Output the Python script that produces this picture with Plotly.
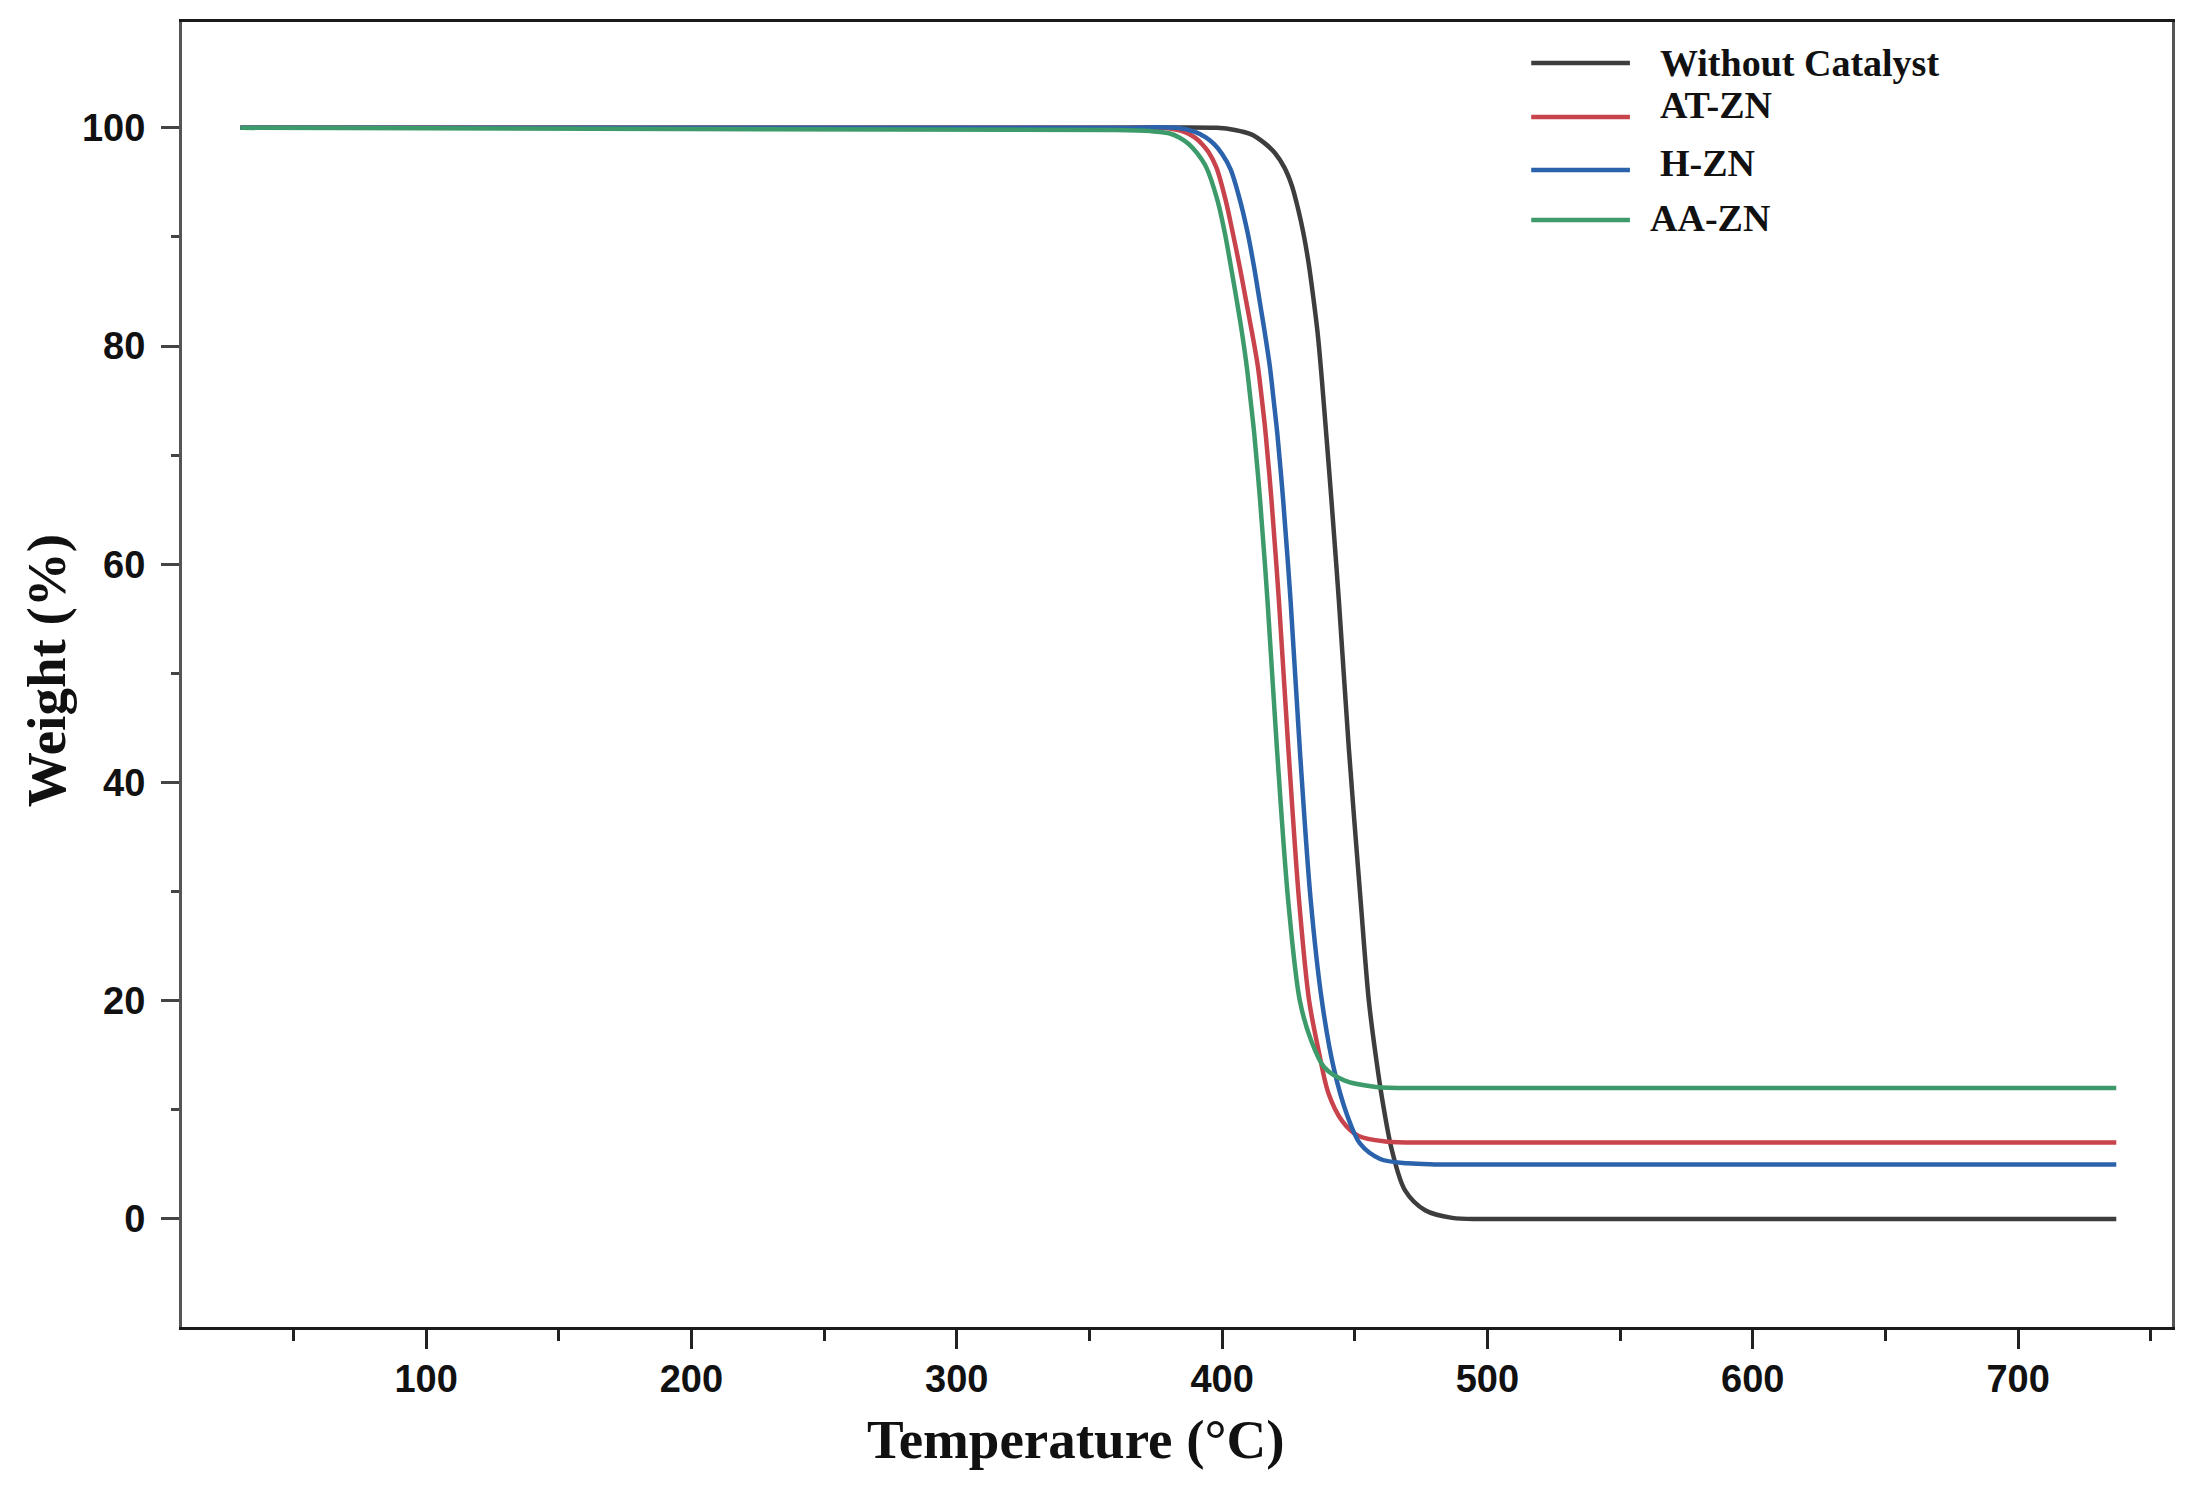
import plotly.graph_objects as go

# ---- data (Temperature °C, Weight %) ----
series_names = ["Without Catalyst", "AT-ZN", "H-ZN", "AA-ZN"]
series_colors = ["#3d3d3d", "#c8434b", "#2a62ab", "#3d9a6b"]

temp_without = [30, 357, 398, 404.8, 411, 416, 419.9, 423.4, 426.3, 428.6, 430.6, 432.6, 434.4,
                436, 437.4, 438.7, 441.2, 444, 447.8, 452.2, 455.3, 458, 460.4, 464, 469, 476.5,
                486.7, 500, 737]
weight_without = [100, 100, 100, 99.8, 99.4, 98.6, 97.7, 96.4, 94.7, 92.6, 90.4, 87.6, 84.4,
                  81.2, 77.5, 73.6, 65.9, 56.7, 43, 29.2, 20, 14.8, 10.9, 6.3, 2.6, 0.8,
                  0.1, 0, 0]

temp_at = [30, 357, 378, 386, 389.8, 392.5, 394.8, 397.8, 401.3, 404, 406.6, 409, 411.3, 413.5,
           415, 416.4, 418.6, 421.4, 425, 429, 432.8, 436.4, 440.1, 445.2, 451.5, 461.5, 480, 737]
weight_at = [100, 100, 100, 99.6, 99.1, 98.5, 97.8, 96.4, 93.4, 90.4, 87.3, 84.2, 81.2, 78.1,
             75.1, 72, 65.9, 56.7, 43, 29.2, 20, 15.4, 11.5, 9, 7.6, 7.1, 7.0, 7.0]

temp_h = [30, 357, 383, 390, 394, 397, 400, 403.2, 406.7, 409.6, 412, 414.1, 416.1, 418, 419.4,
          420.8, 423, 425.8, 429.3, 433.4, 437.6, 442, 447, 452, 459.6, 470, 480, 737]
weight_h = [100, 100, 100, 99.6, 99.1, 98.5, 97.6, 96.2, 93.4, 90.4, 87.3, 84.2, 81.2, 78.1, 75.1,
            72, 65.9, 56.7, 43, 29.2, 20, 13.9, 9.6, 6.9, 5.5, 5.1, 5.0, 5.0]

temp_aa = [30, 357, 373, 380, 384, 387.5, 390.5, 394, 398.2, 401, 403.3, 405.5, 407.5, 409.3,
           410.7, 412.1, 414.3, 417.1, 420.7, 424.9, 429.3, 433.5, 438.5, 446, 458, 480, 737]
weight_aa = [100, 99.8, 99.7, 99.5, 99.1, 98.5, 97.7, 96.4, 93.4, 90.4, 87.3, 84.2, 81.2, 78.1,
             75.1, 72, 65.9, 56.7, 43, 29.2, 20, 16.4, 13.9, 12.7, 12.1, 12.0, 12.0]

x_tick_vals = [100, 200, 300, 400, 500, 600, 700]
y_tick_vals = [0, 20, 40, 60, 80, 100]

temps = [temp_without, temp_at, temp_h, temp_aa]
weights = [weight_without, weight_at, weight_h, weight_aa]

fig = go.Figure()
for name, color, t, w in zip(series_names, series_colors, temps, weights):
    fig.add_trace(go.Scatter(
        x=t, y=w, mode="lines", name=name,
        line=dict(color=color, width=4.5, shape="spline", smoothing=0.9),
        showlegend=False,
    ))

tick_font = dict(family="Liberation Sans, Arial, sans-serif", size=38, color="#111111", weight="bold")
title_font = dict(family="Liberation Serif, Times New Roman, serif", size=55, color="#111111", weight="bold")
legend_font = dict(family="Liberation Serif, Times New Roman, serif", size=38, color="#111111", weight="bold")

fig.update_layout(
    width=2197, height=1486,
    margin=dict(l=182, r=25, t=22, b=159),
    paper_bgcolor="white", plot_bgcolor="white",
    xaxis=dict(
        range=[8, 758], tickvals=x_tick_vals, ticks="outside", ticklen=19, tickwidth=2.5,
        tickcolor="#222222", showline=True, linecolor="#1a1a1a", linewidth=3, mirror=True,
        showgrid=False, zeroline=False, tickfont=tick_font, ticklabelstandoff=-3,
        minor=dict(dtick=50, tick0=0, ticks="outside", ticklen=11, tickwidth=2.5, tickcolor="#222222", showgrid=False),
    ),
    yaxis=dict(
        range=[-9.9, 109.7], tickvals=y_tick_vals, ticks="outside", ticklen=18, tickwidth=2.5,
        tickcolor="#444444", showline=True, linecolor="#555555", linewidth=3, mirror=True,
        showgrid=False, zeroline=False, tickfont=tick_font, ticklabelstandoff=8,
        minor=dict(dtick=10, tick0=0, ticks="outside", ticklen=8, tickwidth=2.5, tickcolor="#444444", showgrid=False),
    ),
)

# axis titles
fig.add_annotation(text="Temperature (°C)", xref="paper", yref="paper", x=0.449, y=0,
                   yshift=-112, showarrow=False, font=title_font, xanchor="center", yanchor="middle")
fig.add_annotation(text="Weight (%)", xref="paper", yref="paper", x=-0.068, y=0.503,
                   showarrow=False, font=title_font, textangle=-90, xanchor="center", yanchor="middle")

# legend (drawn manually to match the long key lines of the reference)
legend_line_y = [0.9686, 0.9272, 0.8866, 0.8483]
legend_text_y = [0.9686, 0.9364, 0.8920, 0.8498]
legend_text_x = [0.7417, 0.7417, 0.7417, 0.7367]
for name, color, ly, ty, tx in zip(series_names, series_colors, legend_line_y, legend_text_y, legend_text_x):
    fig.add_shape(type="line", xref="paper", yref="paper", x0=0.678, x1=0.7276, y0=ly, y1=ly,
                  line=dict(color=color, width=4.5))
    fig.add_annotation(text=name, xref="paper", yref="paper", x=tx, y=ty, showarrow=False,
                       font=legend_font, xanchor="left", yanchor="middle")

fig.write_html("out.html")
